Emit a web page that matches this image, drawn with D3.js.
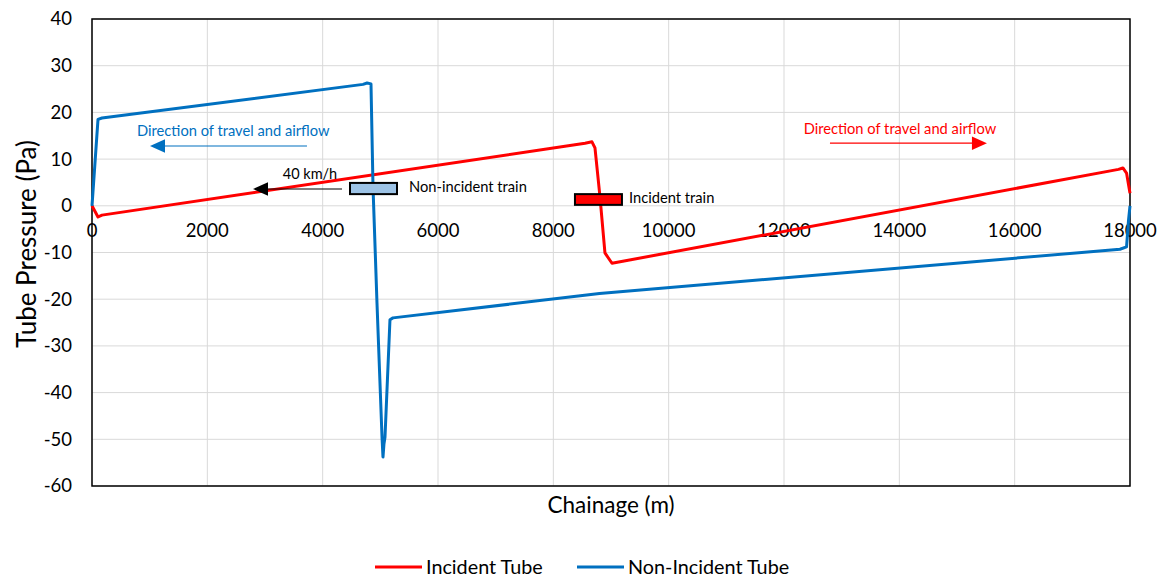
<!DOCTYPE html>
<head>
  <meta charset="utf-8">
  <title>Tube Pressure</title>
  <style>
    body { margin: 0; background: #fff; }
    text { font-family: Lato, "Open Sans", sans-serif; }
    .grid line { stroke: #d9d9d9; stroke-width: 1; }
    .line { fill: none; stroke-width: 3; stroke-linejoin: round; }
  </style>
</head>
<body>
  <div id="chart"></div>
  <script src="https://d3js.org/d3.v7.min.js"></script>
  <script>
    // chainage (m) and pressure (Pa)
    const incidentX = [0, 104, 173, 8550, 8670, 8722, 8809, 8895, 9017, 17800, 17877, 17940, 18000];
    const incidentY = [0, -2.4, -2.0, 13.4, 13.7, 12.4, 1.9, -10.1, -12.3, 7.8, 8.1, 7.0, 2.7];
    const nonIncidentX = [0, 104, 173, 4700, 4770, 4838, 4873, 4942, 5029, 5046, 5063, 5081, 5167, 5219, 8800, 17826, 17940, 17975, 18000];
    const nonIncidentY = [0, 18.5, 18.8, 26.0, 26.3, 26.1, 4.0, -20.8, -49.5, -53.8, -51.0, -49.5, -24.4, -24.0, -18.8, -9.3, -8.8, -3.0, 0];
    const xTicks = [0, 2000, 4000, 6000, 8000, 10000, 12000, 14000, 16000, 18000];
    const yTicks = [40, 30, 20, 10, 0, -10, -20, -30, -40, -50, -60];
    const seriesNames = ['Incident Tube', 'Non-Incident Tube'];
    const seriesColors = ['#ff0000', '#0070c0'];

    const W = 1160, H = 577;
    const margin = { top: 19, right: 30, bottom: 91, left: 92 };
    const width = W - margin.left - margin.right,
      height = H - margin.top - margin.bottom;

    const svg = d3.select('#chart').append('svg')
      .attr('width', W).attr('height', H);
    const g = svg.append('g')
      .attr('transform', `translate(${margin.left},${margin.top})`);

    const x = d3.scaleLinear().domain([0, 18000]).range([0, width]);
    const y = d3.scaleLinear().domain([-60, 40]).range([height, 0]);

    // gridlines
    g.append('g').attr('class', 'grid')
      .selectAll('line').data(yTicks).join('line')
      .attr('x1', 0).attr('x2', width)
      .attr('y1', d => y(d)).attr('y2', d => y(d));
    g.append('g').attr('class', 'grid')
      .selectAll('line').data(xTicks).join('line')
      .attr('y1', 0).attr('y2', height)
      .attr('x1', d => x(d)).attr('x2', d => x(d));

    // border
    g.append('rect').attr('width', width).attr('height', height)
      .attr('fill', 'none').attr('stroke', '#000').attr('stroke-width', 1.5);

    // y axis labels
    g.append('g').selectAll('text').data(yTicks).join('text')
      .attr('x', -20).attr('y', d => y(d)).attr('dy', '0.35em')
      .attr('text-anchor', 'end').attr('font-size', 18.5).attr('fill', '#000')
      .text(d => d);

    // x axis labels sit at the zero line
    g.append('g').selectAll('text').data(xTicks).join('text')
      .attr('x', d => x(d)).attr('y', y(0) + 25).attr('dy', '0.35em')
      .attr('text-anchor', 'middle').attr('font-size', 18.5).attr('fill', '#000')
      .text(d => d);

    // axis titles
    svg.append('text')
      .attr('transform', `translate(27,${margin.top + 225}) rotate(-90)`)
      .attr('text-anchor', 'middle').attr('dy', '0.35em')
      .attr('font-size', 26).text('Tube Pressure (Pa)');
    svg.append('text')
      .attr('x', 611).attr('y', 505).attr('dy', '0.35em')
      .attr('text-anchor', 'middle').attr('font-size', 22.5).text('Chainage (m)');

    // series lines
    const line = d3.line().x(d => x(d[0])).y(d => y(d[1]));
    const series = [d3.zip(incidentX, incidentY), d3.zip(nonIncidentX, nonIncidentY)];
    series.forEach((s, i) => {
      g.append('path').datum(s).attr('class', 'line')
        .attr('stroke', seriesColors[i]).attr('d', line);
    });

    // annotations
    function arrow(x1, x2, yv, color, head) {
      const px1 = x(x1), px2 = x(x2), py = y(yv);
      const dir = px2 > px1 ? 1 : -1;
      g.append('line').attr('x1', px1).attr('x2', px2 - dir * head * 0.8)
        .attr('y1', py).attr('y2', py).attr('stroke', color).attr('stroke-width', 1.2);
      g.append('path')
        .attr('d', `M${px2},${py} L${px2 - dir * head},${py - head * 0.45} L${px2 - dir * head},${py + head * 0.45} Z`)
        .attr('fill', color);
    }
    function label(xv, yv, txt, color, anchor, size) {
      g.append('text').attr('x', x(xv)).attr('y', y(yv)).attr('dy', '0.35em')
        .attr('text-anchor', anchor).attr('font-size', size).attr('fill', color).text(txt);
    }

    label(780, 16.0, 'Direction of travel and airflow', '#0070c0', 'start', 14.7);
    arrow(3728, 1006, 12.8, '#0070c0', 15);

    label(14010, 16.4, 'Direction of travel and airflow', '#ff0000', 'middle', 14.7);
    arrow(12797, 15519, 13.4, '#ff0000', 15);

    label(3780, 6.9, '40 km/h', '#000', 'middle', 14.5);
    arrow(4335, 2792, 3.6, '#000', 15);

    g.append('rect')
      .attr('x', x(4474)).attr('y', y(4.9))
      .attr('width', x(5289) - x(4474)).attr('height', y(2.5) - y(4.9))
      .attr('fill', '#9dc3e6').attr('stroke', '#000').attr('stroke-width', 2);
    label(5497, 4.0, 'Non-incident train', '#000', 'start', 14.7);

    g.append('rect')
      .attr('x', x(8375)).attr('y', y(2.5))
      .attr('width', x(9190) - x(8375)).attr('height', y(0.2) - y(2.5))
      .attr('fill', '#ff0000').attr('stroke', '#000').attr('stroke-width', 2);
    label(9312, 1.7, 'Incident train', '#000', 'start', 14.7);

    // legend
    const legend = svg.append('g');
    const legendX = [375, 577];
    seriesNames.forEach((name, i) => {
      legend.append('line')
        .attr('x1', legendX[i]).attr('x2', legendX[i] + 47)
        .attr('y1', 567).attr('y2', 567)
        .attr('stroke', seriesColors[i]).attr('stroke-width', 3);
      legend.append('text')
        .attr('x', legendX[i] + 51).attr('y', 567).attr('dy', '0.35em')
        .attr('font-size', 19.8).text(name);
    });
  </script>
</body>
</html>
